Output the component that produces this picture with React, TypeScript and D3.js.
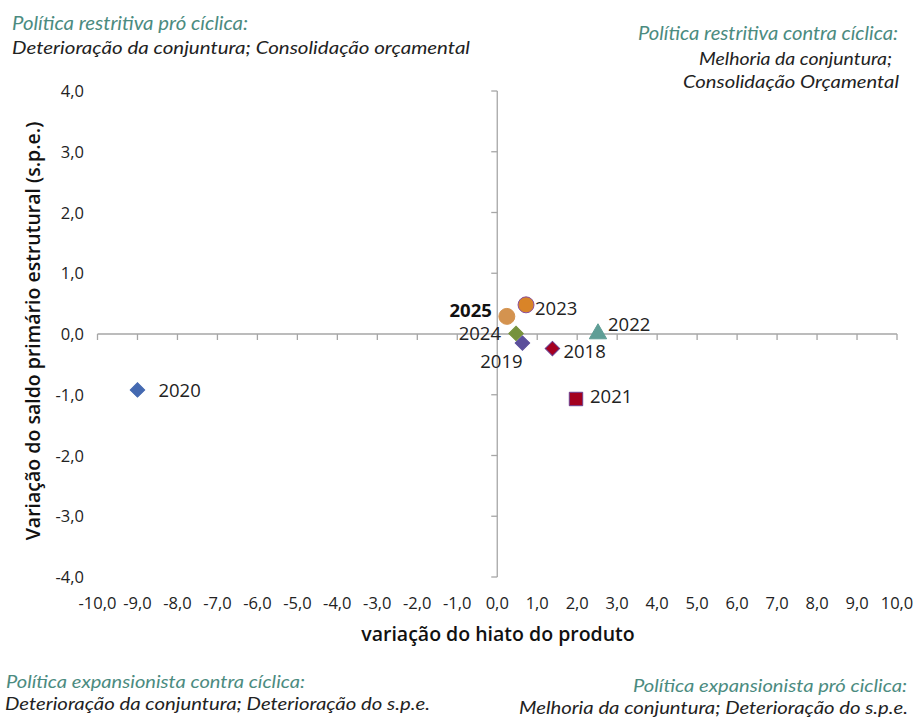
import React from "react";
import * as d3 from "d3";

const years = ["2018", "2019", "2020", "2021", "2022", "2023", "2024", "2025"];
const hiato = [1.38, 0.63, -9.0, 1.97, 2.52, 0.72, 0.47, 0.24];
const spe = [-0.24, -0.15, -0.92, -1.07, 0.02, 0.48, 0.01, 0.29];
const shapes = ["diamond", "diamond", "diamond", "square", "triangle", "circle", "diamond", "circle"];
const fills = ["#a50021", "#5b4f9b", "#4469b1", "#a3001f", "#5f9e96", "#d98428", "#76923c", "#d4934f"];
const strokes = ["#6b3f8f", "#5b4f9b", "#4469b1", "#6b3f8f", "#5f9e96", "#8a4f9a", "#76923c", "#d4934f"];
const labelBold = [false, false, false, false, false, false, false, true];

const xTicks = d3.range(-10, 10.001, 1);
const yTicks = d3.range(-4, 4.001, 1);

const fmt = (v: number) => (Math.abs(v) < 1e-9 ? 0 : v).toFixed(1).replace(".", ",");

const W = 917;
const H = 717;

export default function App() {
  const x = d3.scaleLinear().domain([-10, 10]).range([97.5, 897]);
  const y = d3.scaleLinear().domain([-4, 4]).range([577, 91]);
  const axisColor = "#a6a6a6";
  const tickFont = "'Open Sans', 'Noto Sans', sans-serif";
  const noteFont = "Lato, 'Noto Sans', sans-serif";
  const teal = "#4b8b80";

  const sym = (shape: string) => {
    if (shape === "circle") return d3.symbol(d3.symbolCircle, 200)();
    if (shape === "square") return d3.symbol(d3.symbolSquare, 180)();
    if (shape === "triangle") return d3.symbol(d3.symbolTriangle, 130)();
    return d3.symbol(d3.symbolSquare, 105)();
  };

  const labelOffset = (yr: string): [number, number, string] => {
    if (yr === "2019") return [-21, 25, "middle"];
    if (yr === "2024") return [-15, 7, "end"];
    if (yr === "2025") return [-15, 1, "end"];
    if (yr === "2022") return [10, -2, "start"];
    if (yr === "2023") return [9, 10, "start"];
    if (yr === "2018") return [11, 9, "start"];
    if (yr === "2021") return [14, 4, "start"];
    return [21, 7, "start"];
  };

  const note = (
    txt: string,
    xx: number,
    yy: number,
    len: number,
    anchor: string,
    color: string,
    size: number
  ) => (
    <text
      x={xx}
      y={yy}
      fill={color}
      textAnchor={anchor as any}
      fontSize={size}
      textLength={len}
      lengthAdjust="spacingAndGlyphs"
    >
      {txt}
    </text>
  );

  return (
    <svg width={W} height={H} style={{ display: "block", position: "absolute", left: 0, top: 0, background: "#fff" }}>
      {/* annotations */}
      <g fontFamily={noteFont} fontStyle="italic">
        {note("Política restritiva pró cíclica:", 12, 30, 236, "start", teal, 19)}
        {note("Deterioração da conjuntura; Consolidação orçamental", 12, 54, 458, "start", "#222", 18)}
        {note("Política restritiva contra cíclica:", 898, 40, 260, "end", teal, 19)}
        {note("Melhoria da conjuntura;", 892, 65, 193, "end", "#222", 18)}
        {note("Consolidação Orçamental", 899, 88, 216, "end", "#222", 18)}
        {note("Política expansionista contra cíclica:", 6, 688, 299, "start", teal, 18)}
        {note("Deterioração da conjuntura; Deterioração do s.p.e.", 5, 710, 425, "start", "#222", 17.5)}
        {note("Política expansionista pró ciclica:", 907, 692, 274, "end", teal, 18)}
        {note("Melhoria da conjuntura; Deterioração do s.p.e.", 908, 714, 389, "end", "#222", 17.5)}
      </g>

      {/* axes */}
      <g stroke={axisColor} strokeWidth={1.3} fill="none">
        <line x1={x(-10)} x2={x(10)} y1={y(0)} y2={y(0)} />
        <line x1={x(0)} x2={x(0)} y1={y(4)} y2={y(-4)} />
        {xTicks.map((t) => (
          <line key={"xt" + t} x1={x(t)} x2={x(t)} y1={y(0)} y2={y(0) + 6} />
        ))}
        {yTicks.map((t) => (
          <line key={"yt" + t} x1={x(0) - 6} x2={x(0)} y1={y(t)} y2={y(t)} />
        ))}
      </g>

      <g fontFamily={tickFont} fontSize={16.5} fill="#222">
        {xTicks.map((t) => (
          <text key={"xl" + t} x={x(t)} y={609} textAnchor="middle">{fmt(t)}</text>
        ))}
        {yTicks.map((t) => (
          <text key={"yl" + t} x={84} y={y(t) + 6} textAnchor="end">{fmt(t)}</text>
        ))}
      </g>

      <text x={498} y={641} textAnchor="middle" fontFamily={tickFont} fontSize={19.5} fontWeight={600} fill="#111">variação do hiato do produto</text>
      <text transform={`translate(40,331) rotate(-90)`} textAnchor="middle" fontFamily={tickFont} fontSize={19.5} fontWeight={600} fill="#111">Variação do saldo primário estrutural (s.p.e.)</text>

      {/* points */}
      {years.map((yr, i) => (
        <path
          key={"p" + yr}
          d={sym(shapes[i]) || ""}
          transform={`translate(${x(hiato[i])},${y(spe[i])})${shapes[i] === "diamond" ? " rotate(45)" : ""}${shapes[i] === "triangle" ? " translate(0,1)" : ""}`}
          fill={fills[i]}
          stroke={strokes[i]}
          strokeWidth={1}
        />
      ))}

      <g fontFamily={tickFont} fontSize={18.5} fill="#222">
        {years.map((yr, i) => {
          const [dx, dy, anchor] = labelOffset(yr);
          return (
            <text
              key={"l" + yr}
              x={x(hiato[i]) + dx}
              y={y(spe[i]) + dy}
              textAnchor={anchor as any}
              fontWeight={labelBold[i] ? 700 : 400}
              fill={labelBold[i] ? "#111" : "#222"}
            >
              {yr}
            </text>
          );
        })}
      </g>
    </svg>
  );
}
